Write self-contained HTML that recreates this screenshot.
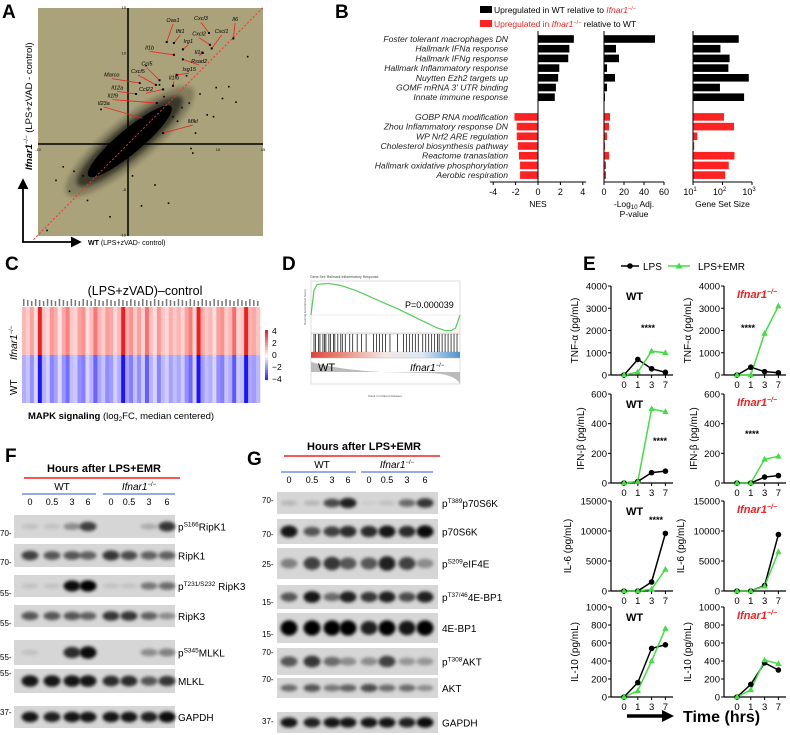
<!DOCTYPE html>
<html><head><meta charset="utf-8">
<style>
html,body{margin:0;padding:0;background:#fff;}
svg{display:block;font-family:"Liberation Sans",Arial,sans-serif;}
</style></head>
<body>
<svg id="fig" width="790" height="735" viewBox="0 0 790 735" xmlns="http://www.w3.org/2000/svg">
<defs>
<filter id="blur" x="-50%" y="-50%" width="200%" height="200%"><feGaussianBlur stdDeviation="1.6"/></filter>
<filter id="blur2" x="-50%" y="-50%" width="200%" height="200%"><feGaussianBlur stdDeviation="2"/></filter>
<marker id="arr" markerWidth="6" markerHeight="6" refX="5" refY="3" orient="auto"><path d="M0,0 L6,3 L0,6 z" fill="#000"/></marker>
</defs>
<g font-weight="bold" font-size="19">
<text x="2" y="18">A</text><text x="335" y="18">B</text><text x="5" y="270">C</text><text x="282" y="270">D</text><text x="583" y="270">E</text><text x="5" y="462">F</text><text x="247" y="465">G</text>
</g>
<g id="pA"></g>
<g id="pB"></g>
<g id="pC"></g>
<g id="pD"></g>
<g id="pE"></g>
<g id="pF"></g>
<g id="pG"></g>
</svg>
<script>
// ---------- DATA ----------
const geneNames = ["Il6","Cxcl3","Oas1","Ifit1","Irg1","Cxcl2","Cxcl1","Il1a","Il1b","Rsad2","Isg15","Il1f6","Ccl5","Cxcl5","Marco","Ccl22","Il12a","Il1f9","Il23a","Mlkl"];
const geneWT = [11.7,9.0,4.3,5.1,6.1,9.1,9.3,8.3,5.1,6.1,5.4,5.0,3.5,3.1,1.3,3.9,0.9,3.2,1.7,3.9];
const geneKO = [11.6,12.2,11.2,11.1,10.4,10.9,10.5,10.0,9.8,9.3,7.6,6.4,7.0,6.5,6.7,6.0,5.5,4.5,2.8,1.2];
const labelWT = [11.9,8.1,5.0,5.8,6.7,7.9,10.4,7.9,2.4,7.9,6.8,5.1,2.1,1.1,-1.8,2.0,-1.2,-1.7,-2.7,7.2];
const labelKO = [13.5,13.6,13.4,12.2,11.1,11.9,12.2,9.9,10.4,8.9,8.0,7.1,8.6,7.8,7.4,5.8,6.0,5.1,4.3,2.3];
const outWT = [13.3,10.5,12.0,9.8,8.8,7.5,7.0,-8.0,-6.5,-7.2,4.5,6.0,6.5,8.0,2.0,-9.0,-5.0,7.2,3.0,1.5,5.5,-3.0,0.5,-2.0,9.5,11.2,4.0,5.0,6.8,3.5,-4.5,-6.0];
const outKO = [9.6,5.0,4.6,6.2,3.2,1.2,-0.5,-4.0,-5.2,-2.5,-6.5,4.0,7.5,5.5,8.6,-9.5,-3.5,-1.0,-4.5,-6.8,2.5,3.8,-3.5,-8.0,3.0,6.3,5.2,3.0,4.5,6.5,-6.2,-3.0];
const gsNames = ["Foster tolerant macrophages DN","Hallmark IFNa response","Hallmark IFNg response","Hallmark Inflammatory response","Nuytten Ezh2 targets up","GOMF mRNA 3' UTR binding","Innate immune response","GOBP RNA modification","Zhou Inflammatory response DN","WP Nrf2 ARE regulation","Cholesterol biosynthesis pathway","Reactome tranaslation","Hallmark oxidative phosphorylation","Aerobic respiration"];
const nes = [3.2,2.8,2.7,1.9,1.8,1.6,1.5,-2.1,-1.9,-1.9,-1.8,-1.7,-1.6,-1.6];
const logP = [51,12,15,3,11,3,1,6,5,3,1,5,2,2];
const setSize = [355,85,174,158,780,82,540,112,246,14,11,255,163,123];
const nesTicks = [-4,-2,0,2,4];
const pTicks = [0,20,40,60];
const koVals = [1.2,0.8,1.6,0.5,4.0,1.0,0.6,1.8,1.4,0.4,1.5,2.2,0.9,0.7,1.6,1.9,0.5,1.1,2.4,1.3,0.8,1.7,1.5,0.6,1.2,4.0,1.4,1.9,0.9,1.6,0.7,2.5,1.1,0.5,1.8,1.0,0.6,1.4,0.9,1.3,0.7,1.6,2.3,0.6,4.0,1.5,0.9,1.2,0.5,1.6,1.9,0.8,1.2,2.6,0.7,0.9,4.0,1.3,1.5,1.0];
const wtVals = [-1.3,-0.9,-1.8,-0.6,-4.0,-1.2,-0.7,-2.0,-1.5,-0.5,-1.7,-2.4,-1.0,-0.8,-1.8,-2.1,-0.6,-1.2,-2.6,-1.4,-0.9,-1.9,-1.6,-0.7,-1.3,-4.0,-1.5,-2.1,-1.0,-1.8,-0.8,-2.7,-1.2,-0.6,-2.0,-1.1,-0.7,-1.5,-1.0,-1.4,-0.8,-1.8,-2.5,-0.7,-4.0,-1.6,-1.0,-1.3,-0.6,-1.8,-2.1,-0.9,-1.3,-2.8,-0.8,-1.0,-4.0,-1.4,-1.6,-1.1];
const cbTicks = [4,2,0,-2,-4];
const esRank = [0,0.02,0.04,0.08,0.12,0.2,0.3,0.4,0.5,0.6,0.7,0.78,0.85,0.9,0.94,0.97,1.0];
const esVal = [0,0.3,0.37,0.38,0.385,0.36,0.3,0.22,0.14,0.06,-0.03,-0.1,-0.16,-0.19,-0.19,-0.16,0.0];
const hits = [0.02,0.03,0.05,0.06,0.08,0.09,0.1,0.12,0.13,0.15,0.16,0.18,0.2,0.21,0.23,0.26,0.28,0.31,0.34,0.37,0.42,0.44,0.46,0.48,0.5,0.53,0.58,0.62,0.64,0.66,0.68,0.7,0.72,0.75,0.77,0.79,0.81,0.83,0.85,0.86,0.88,0.9,0.92,0.94,0.96,0.98];
const timeCats = ["0","1","3","7"];
const tnfWtLps=[0,700,280,120], tnfWtEmr=[0,130,1070,1000], tnfKoLps=[0,350,150,100], tnfKoEmr=[0,0,1870,3100];
const ifnWtLps=[0,10,70,80], ifnWtEmr=[0,10,500,480], ifnKoLps=[0,0,40,50], ifnKoEmr=[0,0,160,180];
const il6WtLps=[0,0,1500,9600], il6WtEmr=[0,0,300,3600], il6KoLps=[0,0,900,9400], il6KoEmr=[0,0,800,6500];
const il10WtLps=[0,160,540,580], il10WtEmr=[0,70,400,760], il10KoLps=[0,140,380,300], il10KoEmr=[0,80,410,370];
const tnfTicks=[0,1000,2000,3000,4000], ifnTicks=[0,200,400,600], il6Ticks=[0,5000,10000,15000], il10Ticks=[0,200,400,600,800,1000];
const fpRipK1=[0.1,0.1,0.35,0.7,0,0,0.2,0.75], fRipK1=[0.7,0.6,0.6,0.55,0.75,0.65,0.55,0.55], fpRipK3=[0.1,0.1,0.95,1,0.1,0.1,0.45,0.5], fRipK3=[0.6,0.6,0.6,0.55,0.75,0.75,0.55,0.35], fpMLKL=[0.1,0,0.8,0.95,0,0,0.35,0.4], fMLKL=[0.9,0.9,0.9,0.9,0.8,0.8,0.6,0.75], fGAPDH=[0.9,0.85,0.9,0.9,0.9,0.9,0.85,0.95];
const gp70=[0.15,0.15,0.65,0.85,0.05,0.1,0.5,0.75], g70=[0.9,0.6,0.7,0.8,0.8,0.9,0.8,0.95], geIF=[0.4,0.7,0.75,0.6,0.6,0.85,0.7,0.35], gp4E=[0.6,0.9,0.5,0.85,0.75,0.85,0.65,0.85], g4E=[1,1,1,1,0.85,1,0.9,1], gpAKT=[0.6,0.75,0.5,0.35,0.35,0.7,0.3,0.3], gAKT=[0.5,0.6,0.45,0.55,0.65,0.5,0.5,0.35], gGAPDH=[0.9,0.85,0.9,0.9,0.9,0.9,0.85,0.95];
const laneLabels=["0","0.5","3","6","0","0.5","3","6"];

const NS="http://www.w3.org/2000/svg";
function mk(parent,tag,attrs,txt){const e=document.createElementNS(NS,tag);for(const k in attrs)e.setAttribute(k,attrs[k]);if(txt!==undefined)e.textContent=txt;parent.appendChild(e);return e;}
function rich(parent,x,y,parts,attrs){const t=mk(parent,'text',Object.assign({x:x,y:y},attrs||{}));parts.forEach(p=>{mk(t,'tspan',p.a||{},p.t);});return t;}

// ---------- Panel A ----------
(function(){
const g=document.getElementById('pA');
const sx=v=>128+v*9, sy=v=>144-v*9.1;
const bg=mk(g,'rect',{x:38,y:8,width:225,height:228,fill:'#a9a27a'});


const cloud=mk(g,'g',{transform:`translate(${sx(0.2)},${sy(0.3)}) rotate(-40)`});


mk(cloud,'ellipse',{cx:0,cy:0,rx:82,ry:22,fill:'#000',opacity:0.22,filter:'url(#blur2)'});
mk(cloud,'ellipse',{cx:0,cy:0,rx:68,ry:16,fill:'#000',opacity:0.55,filter:'url(#blur2)'});
mk(cloud,'ellipse',{cx:0,cy:0,rx:54,ry:12,fill:'#000'});
outWT.forEach((v,i)=>{const c=mk(g,'rect',{x:sx(v)-0.8,y:sy(outKO[i])-0.8,width:1.6,height:1.6,fill:'#000'});

});
mk(g,'line',{x1:38,y1:sy(0),x2:263,y2:sy(0),stroke:'#000','stroke-width':1.5});
mk(g,'line',{x1:sx(0),y1:8,x2:sx(0),y2:236,stroke:'#000','stroke-width':1.5});
[[-10,'x'],[10,'x'],[15,'x'],[15,'y'],[10,'y'],[-5,'y'],[-10,'y']].forEach(([v,a])=>{
 if(a==='x')mk(g,'text',{x:sx(v),y:sy(0)+7,'font-size':4,'text-anchor':'middle'},v);
 else mk(g,'text',{x:sx(0)-2,y:sy(v)+1.5,'font-size':4,'text-anchor':'end'},v);});
mk(g,'line',{x1:sx(-10.5),y1:sy(-10.5),x2:sx(15),y2:sy(15),stroke:'#e33','stroke-width':1,'stroke-dasharray':'2,2'});
geneNames.forEach((n,i)=>{
 const px=sx(geneWT[i]),py=sy(geneKO[i]),lx=sx(labelWT[i]),ly=sy(labelKO[i]);
 const ln=mk(g,'line',{x1:lx,y1:ly+2,x2:px,y2:py,stroke:'#e22','stroke-width':0.8});
 
 
 mk(g,'rect',{x:px-1,y:py-1,width:2,height:2,fill:'#000'});
 const t=mk(g,'text',{x:lx,y:ly,'font-size':5.5,'font-style':'italic','text-anchor':'middle'},n);
 
 });
mk(g,'line',{x1:23,y1:242,x2:23,y2:180,stroke:'#000','stroke-width':1.8,'marker-end':'url(#arr)'});
mk(g,'line',{x1:22,y1:242,x2:80,y2:242,stroke:'#000','stroke-width':1.8,'marker-end':'url(#arr)'});
const yl=rich(g,0,0,[{t:'Ifnar1',a:{'font-weight':'bold','font-style':'italic'}},{t:'−/−',a:{'font-size':6,dy:-4}},{t:' (LPS+zVAD - control)',a:{dy:4}}],{'font-size':9.5,transform:'translate(32,170) rotate(-90)'});


const xl=rich(g,88,245,[{t:'WT',a:{'font-weight':'bold'}},{t:' (LPS+zVAD- control)'}],{'font-size':7});


})();

// ---------- Panel B ----------
(function(){
const g=document.getElementById('pB');
const rowY=i=>39+i*9.7+(i>=7?10:0);
const xN=v=>538+v*11.2, xP=v=>604+v*1.0, xS=v=>693+(Math.log10(v)-1)*29.5;
mk(g,'rect',{x:480,y:6,width:12,height:7,fill:'#000'});
rich(g,494,13,[{t:'Upregulated in WT relative to '},{t:'Ifnar1',a:{fill:'#e22','font-style':'italic'}},{t:'−/−',a:{fill:'#e22','font-size':5.5,dy:-3}}],{'font-size':8.5});
mk(g,'rect',{x:480,y:20,width:12,height:7,fill:'#f22'});
rich(g,494,27,[{t:'Upregulated in ',a:{fill:'#e22'}},{t:'Ifnar1',a:{fill:'#e22','font-style':'italic'}},{t:'−/−',a:{fill:'#e22','font-size':5.5,dy:-3}},{t:' relative to WT',a:{dy:3}}],{'font-size':8.5});
gsNames.forEach((n,i)=>{
 const y=rowY(i),col=i<7?'#000':'#f22';
 const t=mk(g,'text',{x:508,y:y+3,'font-size':8.6,'font-style':'italic','text-anchor':'end',fill:'#222'},n);
 
 
 const b1=mk(g,'rect',{x:Math.min(xN(0),xN(nes[i])),y:y-3.8,width:Math.abs(xN(nes[i])-xN(0)),height:7.6,fill:col});
 
 
 const b2=mk(g,'rect',{x:xP(0),y:y-3.8,width:xP(logP[i])-xP(0),height:7.6,fill:col});
 
 
 const b3=mk(g,'rect',{x:xS(10),y:y-3.8,width:xS(setSize[i])-xS(10),height:7.6,fill:col});
 
 });
const ax=182;
mk(g,'line',{x1:xN(0),y1:31,x2:xN(0),y2:ax,stroke:'#000','stroke-width':1});
mk(g,'line',{x1:xN(-4.3),y1:ax,x2:xN(4.3),y2:ax,stroke:'#000','stroke-width':1});
nesTicks.forEach(v=>{mk(g,'line',{x1:xN(v),y1:ax,x2:xN(v),y2:ax+3,stroke:'#000'});mk(g,'text',{x:xN(v),y:ax+13,'font-size':9,'text-anchor':'middle'},v<0?'-'+(-v):v);});
mk(g,'text',{x:xN(0),y:ax+25,'font-size':8.5,'text-anchor':'middle'},'NES');
mk(g,'line',{x1:xP(0),y1:31,x2:xP(0),y2:ax,stroke:'#000'});
mk(g,'line',{x1:xP(0),y1:ax,x2:xP(60),y2:ax,stroke:'#000'});
pTicks.forEach(v=>{mk(g,'line',{x1:xP(v),y1:ax,x2:xP(v),y2:ax+3,stroke:'#000'});mk(g,'text',{x:xP(v),y:ax+13,'font-size':9,'text-anchor':'middle'},v);});
rich(g,xP(30),ax+25,[{t:'-Log'},{t:'10',a:{'font-size':6,dy:2}},{t:' Adj.',a:{dy:-2}}],{'font-size':8.5,'text-anchor':'middle'});
mk(g,'text',{x:xP(30),y:ax+35,'font-size':8.5,'text-anchor':'middle'},'P-value');
mk(g,'line',{x1:xS(10),y1:31,x2:xS(10),y2:ax,stroke:'#000'});
mk(g,'line',{x1:xS(10),y1:ax,x2:xS(1000),y2:ax,stroke:'#000'});
[10,100,1000].forEach((v,k)=>{mk(g,'line',{x1:xS(v),y1:ax,x2:xS(v),y2:ax+3,stroke:'#000'});rich(g,xS(v)-3,ax+13,[{t:'10'},{t:String(k+1),a:{'font-size':6,dy:-4}}],{'font-size':9,'text-anchor':'middle'});});
mk(g,'text',{x:xS(100),y:ax+25,'font-size':8.5,'text-anchor':'middle'},'Gene Set Size');
})();

// ---------- Panel C ----------
(function(){
const g=document.getElementById('pC');
const x0=22,x1=260,n=koVals.length,w=(x1-x0)/n;
const red=v=>{const t=Math.max(0,Math.min(1,v/4));return `rgb(${Math.round(255-10*t)},${Math.round(250-220*t)},${Math.round(248-218*t)})`;};
const blue=v=>{const t=Math.max(0,Math.min(1,-v/4));return `rgb(${Math.round(248-220*t)},${Math.round(246-226*t)},255)`;};
mk(g,'text',{x:145,y:295,'font-size':12.5,'text-anchor':'middle'},'(LPS+zVAD)–control');
koVals.forEach((v,i)=>{
 const a=mk(g,'rect',{x:x0+i*w,y:307,width:w+0.3,height:48,fill:red(v)});
 
 
 const b=mk(g,'rect',{x:x0+i*w,y:355,width:w+0.3,height:48,fill:blue(wtVals[i])});
 
 
 mk(g,'rect',{x:x0+i*w+1,y:299+(i%3),width:1.5,height:7-(i%3),fill:'#777'});});
rich(g,0,0,[{t:'Ifnar1',a:{'font-style':'italic'}},{t:'−/−',a:{'font-size':6,dy:-4}}],{'font-size':10,transform:'translate(17,360) rotate(-90)'});
mk(g,'text',{x:0,y:0,'font-size':10,transform:'translate(17,395) rotate(-90)'},'WT');
const cb=mk(g,'g',{});


for(let k=0;k<20;k++){const v=4-k*0.4;mk(cb,'rect',{x:265,y:330+k*2.5,width:3,height:2.6,fill:v>=0?red(v):blue(v)});}
cbTicks.forEach((v,k)=>mk(cb,'text',{x:272,y:334+k*12,'font-size':8.5},v<0?'−'+(-v):v));
rich(g,28,419,[{t:'MAPK signaling',a:{'font-weight':'bold'}},{t:' (log'},{t:'2',a:{'font-size':6,dy:2}},{t:'FC, median centered)',a:{dy:-2}}],{'font-size':9.5});
})();

// ---------- Panel D ----------
(function(){
const g=document.getElementById('pD');
const X0=311,X1=460,sx=r=>X0+r*(X1-X0),sy=v=>315-v*82;
mk(g,'text',{x:310,y:278,'font-size':3.5,fill:'#444'},'Gene Set: Hallmark Inflammatory Response');
mk(g,'rect',{x:X0,y:281,width:X1-X0,height:52,fill:'#fff',stroke:'#bbb','stroke-width':0.5});
mk(g,'line',{x1:X0,y1:sy(0),x2:X1,y2:sy(0),stroke:'#ddd','stroke-width':0.5});
const pts=esRank.map((r,i)=>sx(r)+','+sy(esVal[i])).join(' ');
const pl=mk(g,'polyline',{points:pts,fill:'none',stroke:'#5c5','stroke-width':1.2});


mk(g,'text',{x:405,y:308,'font-size':9},'P=0.000039');
mk(g,'text',{x:0,y:0,'font-size':3,fill:'#555',transform:'translate(306,325) rotate(-90)'},'Running Enrichment Score');
mk(g,'rect',{x:X0,y:334,width:X1-X0,height:18,fill:'#fff',stroke:'#bbb','stroke-width':0.5});
hits.forEach(h=>{const l=mk(g,'line',{x1:sx(h),y1:334,x2:sx(h),y2:352,stroke:'#000','stroke-width':0.7});

});
const grd=mk(g.ownerSVGElement.querySelector('defs'),'linearGradient',{id:'rk',x1:0,x2:1,y1:0,y2:0});
[['0','#d9443a'],['0.25','#e89a8c'],['0.5','#f4e7e4'],['0.75','#dce8f3'],['1','#4d90c8']].forEach(s=>mk(grd,'stop',{offset:s[0],'stop-color':s[1]}));
mk(g,'rect',{x:X0,y:352,width:X1-X0,height:6,fill:'url(#rk)'});
mk(g,'rect',{x:X0,y:358,width:X1-X0,height:26,fill:'#fff',stroke:'#bbb','stroke-width':0.5});
mk(g,'path',{d:`M${X0},362 Q${X0+30},370 ${X0+70},372 L${X1-30},373 Q${X1-5},374 ${X1},384 L${X1},372 L${X0},372 z`,fill:'#bbb'});
mk(g,'text',{x:318,y:371,'font-size':11},'WT');
rich(g,410,371,[{t:'Ifnar1',a:{'font-style':'italic'}},{t:'−/−',a:{'font-size':6,dy:-4}}],{'font-size':10});
mk(g,'text',{x:385,y:397,'font-size':3,'text-anchor':'middle',fill:'#555'},'Rank in Ordered Dataset');
})();

// ---------- Panel E ----------
(function(){
const g=document.getElementById('pE');
mk(g,'line',{x1:621,y1:266,x2:639,y2:266,stroke:'#000','stroke-width':1.5});mk(g,'circle',{cx:630,cy:266,r:2.8,fill:'#000'});
mk(g,'text',{x:643,y:270,'font-size':10},'LPS');
mk(g,'line',{x1:668,y1:266,x2:690,y2:266,stroke:'#4d4','stroke-width':1.5});mk(g,'path',{d:'M679,262.5 L682.5,268.5 L675.5,268.5z',fill:'#4d4'});
mk(g,'text',{x:698,y:270,'font-size':10},'LPS+EMR');
const plots=[
 {ax:611,top:286,bot:375,max:4000,ticks:tnfTicks,lps:tnfWtLps,emr:tnfWtEmr,lab:'TNF-α (pg/mL)',wt:true,star:[648,331]},
 {ax:724,top:286,bot:375,max:4000,ticks:tnfTicks,lps:tnfKoLps,emr:tnfKoEmr,lab:'TNF-α (pg/mL)',wt:false,star:[748,331]},
 {ax:611,top:394,bot:483,max:600,ticks:ifnTicks,lps:ifnWtLps,emr:ifnWtEmr,lab:'IFN-β (pg/mL)',wt:true,star:[660,444]},
 {ax:724,top:394,bot:483,max:600,ticks:ifnTicks,lps:ifnKoLps,emr:ifnKoEmr,lab:'IFN-β (pg/mL)',wt:false,star:[752,437]},
 {ax:611,top:501,bot:591,max:15000,ticks:il6Ticks,lps:il6WtLps,emr:il6WtEmr,lab:'IL-6 (pg/mL)',wt:true,star:[656,523]},
 {ax:724,top:501,bot:591,max:15000,ticks:il6Ticks,lps:il6KoLps,emr:il6KoEmr,lab:'IL-6 (pg/mL)',wt:false,star:null},
 {ax:611,top:607,bot:697,max:1000,ticks:il10Ticks,lps:il10WtLps,emr:il10WtEmr,lab:'IL-10 (pg/mL)',wt:true,star:null},
 {ax:724,top:607,bot:697,max:1000,ticks:il10Ticks,lps:il10KoLps,emr:il10KoEmr,lab:'IL-10 (pg/mL)',wt:false,star:null}];
plots.forEach(p=>{
 const sg=mk(g,'g',{});
 
 
 const sx=i=>p.ax+13+i*13.8, sy=v=>p.bot-v/p.max*(p.bot-p.top);
 mk(sg,'line',{x1:p.ax,y1:p.top,x2:p.ax,y2:p.bot,stroke:'#000','stroke-width':1.2});
 mk(sg,'line',{x1:p.ax,y1:p.bot,x2:p.ax+62,y2:p.bot,stroke:'#000','stroke-width':1.2});
 p.ticks.forEach(v=>{mk(sg,'line',{x1:p.ax-3,y1:sy(v),x2:p.ax,y2:sy(v),stroke:'#000'});mk(sg,'text',{x:p.ax-4,y:sy(v)+3.5,'font-size':9.5,'text-anchor':'end'},v);});
 timeCats.forEach((c,i)=>{mk(sg,'line',{x1:sx(i),y1:p.bot,x2:sx(i),y2:p.bot+3,stroke:'#000'});mk(sg,'text',{x:sx(i),y:p.bot+13,'font-size':9.5,'text-anchor':'middle'},c);});
 const cx=p.ax-(p.max>=10000?40:(p.max>=1000?33:27));
 mk(sg,'text',{x:0,y:0,'font-size':10,'text-anchor':'middle',transform:`translate(${cx},${(p.top+p.bot)/2}) rotate(-90)`},p.lab);
 const emrPts=p.emr.map((v,i)=>sx(i)+','+sy(v)).join(' ');
 const lpsPts=p.lps.map((v,i)=>sx(i)+','+sy(v)).join(' ');
 const l1=mk(sg,'polyline',{points:lpsPts,fill:'none',stroke:'#000','stroke-width':1.5});
 
 
 const l2=mk(sg,'polyline',{points:emrPts,fill:'none',stroke:'#4d4','stroke-width':1.5});
 
 
 p.lps.forEach((v,i)=>{const c=mk(sg,'circle',{cx:sx(i),cy:sy(v),r:2.8,fill:'#000'});
  
  });
 p.emr.forEach((v,i)=>{const c=mk(sg,'path',{d:`M${sx(i)},${sy(v)-3.5} L${sx(i)+3.2},${sy(v)+2.3} L${sx(i)-3.2},${sy(v)+2.3}z`,fill:'#4d4'});
  
  });
 if(p.wt)mk(sg,'text',{x:p.ax+15,y:p.top+14,'font-size':11,'font-weight':'bold'},'WT');
 else rich(sg,p.ax+13,p.top+12,[{t:'Ifnar1',a:{}},{t:'−/−',a:{'font-size':7,dy:-4}}],{'font-size':11,'font-weight':'bold','font-style':'italic',fill:'#e22'});
 if(p.star)mk(sg,'text',{x:p.star[0],y:p.star[1],'font-size':9,'font-weight':'bold','text-anchor':'middle'},'****');
});
mk(g,'line',{x1:627,y1:716,x2:664,y2:716,stroke:'#000','stroke-width':3.5});
mk(g,'path',{d:'M662,710 L674,716 L662,722z',fill:'#000'});
mk(g,'text',{x:683,y:722,'font-size':16,'font-weight':'bold'},'Time (hrs)');
})();

// ---------- Blots ----------
function blot(gid,cfg){
 const g=document.getElementById(gid);
 const t=mk(g,'text',{x:cfg.hx,y:cfg.hy,'font-size':11,'font-weight':'bold','text-anchor':'middle'},'Hours after LPS+EMR');
 
 
 mk(g,'line',{x1:cfg.rx[0],y1:cfg.hy+6,x2:cfg.rx[1],y2:cfg.hy+6,stroke:'#e22','stroke-width':1.5});
 const mid=(cfg.lanes[1]+cfg.lanes[2])/2, mid2=(cfg.lanes[5]+cfg.lanes[6])/2;
 mk(g,'text',{x:mid,y:cfg.hy+18,'font-size':10,'text-anchor':'middle'},'WT');
 rich(g,mid2,cfg.hy+18,[{t:'Ifnar1',a:{'font-style':'italic'}},{t:'−/−',a:{'font-size':6,dy:-4}}],{'font-size':10,'text-anchor':'middle'});
 mk(g,'line',{x1:cfg.lanes[0]-8,y1:cfg.hy+22,x2:cfg.lanes[3]+8,y2:cfg.hy+22,stroke:'#57d','stroke-width':1.3});
 mk(g,'line',{x1:cfg.lanes[4]-8,y1:cfg.hy+22,x2:cfg.lanes[7]+8,y2:cfg.hy+22,stroke:'#57d','stroke-width':1.3});
 laneLabels.forEach((l,i)=>mk(g,'text',{x:cfg.lanes[i],y:cfg.hy+33,'font-size':9,'text-anchor':'middle'},l));
 cfg.rows.forEach(r=>{
  const rg=mk(g,'g',{});
  
  
  mk(rg,'rect',{x:cfg.bx[0],y:r.y0,width:cfg.bx[1]-cfg.bx[0],height:r.y1-r.y0,fill:'#d6d6d6'});
  const cy=(r.y0+r.y1)/2;
  r.v.forEach((v,i)=>{const e=mk(rg,'ellipse',{cx:cfg.lanes[i],cy:cy,rx:8.5,ry:Math.max(1.6,(r.y1-r.y0)*0.16*(0.6+v)),fill:'#000','fill-opacity':v,filter:'url(#blur)'});
   
   });
  rich(rg,cfg.lx,(r.y0+r.y1)/2+4,r.lab,{'font-size':10});
  if(r.mw)mk(rg,'text',{x:cfg.mx,y:r.mwy,'font-size':8},r.mw);
 });
}
const sup=(a,b,c)=>[{t:a},{t:b,a:{'font-size':6.5,dy:-4}},{t:c,a:{dy:4}}];
blot('pF',{hx:104,hy:472,rx:[24,180],lanes:[30,52,72,88,111,129,149,167],bx:[14,175],lx:178,mx:0,rows:[
 {y0:515,y1:538,v:fpRipK1,lab:sup('p','S166','RipK1'),mw:'70-',mwy:536},
 {y0:544,y1:567,v:fRipK1,lab:[{t:'RipK1'}],mw:'70-',mwy:565},
 {y0:575,y1:597,v:fpRipK3,lab:sup('p','T231/S232',' RipK3'),mw:'55-',mwy:596},
 {y0:605,y1:627,v:fRipK3,lab:[{t:'RipK3'}],mw:'55-',mwy:626},
 {y0:640,y1:665,v:fpMLKL,lab:sup('p','S345','MLKL'),mw:'55-',mwy:660},
 {y0:669,y1:693,v:fMLKL,lab:[{t:'MLKL'}],mw:'55-',mwy:676},
 {y0:706,y1:728,v:fGAPDH,lab:[{t:'GAPDH'}],mw:'37-',mwy:715}]});
blot('pG',{hx:364,hy:450,rx:[284,440],lanes:[289,312,332,348,369,387,407,425],bx:[277,438],lx:442,mx:262,rows:[
 {y0:492,y1:514,v:gp70,lab:sup('p','T389','p70S6K'),mw:'70-',mwy:503},
 {y0:519,y1:544,v:g70,lab:[{t:'p70S6K'}],mw:'70-',mwy:537},
 {y0:548,y1:579,v:geIF,lab:sup('p','S209','eIF4E'),mw:'25-',mwy:567},
 {y0:585,y1:609,v:gp4E,lab:sup('p','T37/46','4E-BP1'),mw:'15-',mwy:605},
 {y0:613,y1:643,v:g4E,lab:[{t:'4E-BP1'}],mw:'15-',mwy:637},
 {y0:648,y1:675,v:gpAKT,lab:sup('p','T308','AKT'),mw:'70-',mwy:655},
 {y0:678,y1:698,v:gAKT,lab:[{t:'AKT'}],mw:'70-',mwy:682},
 {y0:712,y1:733,v:gGAPDH,lab:[{t:'GAPDH'}],mw:'37-',mwy:724}]});
</script>
</body></html>
